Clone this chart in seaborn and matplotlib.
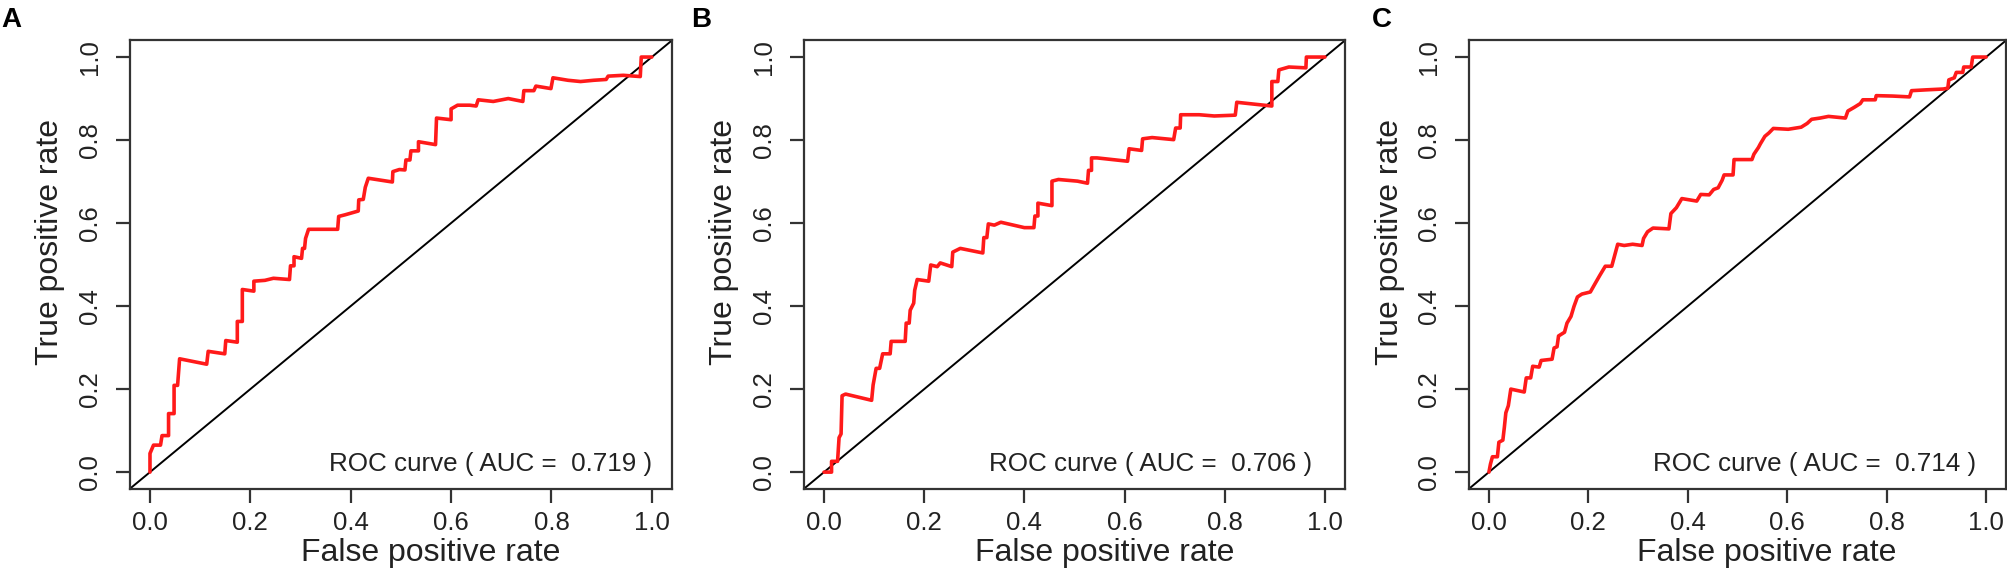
import matplotlib
matplotlib.use("Agg")
import matplotlib.pyplot as plt
import seaborn as sns
import pandas as pd

# ROC curves (false positive rate, true positive rate)
fpr_a = [0.0, 0.0, 0.007, 0.021, 0.024, 0.037, 0.037, 0.048, 0.048, 0.055, 0.059, 0.113, 0.116,
         0.149, 0.151, 0.174, 0.174, 0.184, 0.184, 0.207, 0.207, 0.229, 0.246, 0.278, 0.280,
         0.287, 0.287, 0.302, 0.304, 0.308, 0.310, 0.316, 0.344, 0.374, 0.376, 0.389, 0.415,
         0.416, 0.425, 0.429, 0.435, 0.483, 0.484, 0.497, 0.508, 0.510, 0.518, 0.520, 0.535,
         0.535, 0.569, 0.571, 0.600, 0.600, 0.613, 0.637, 0.650, 0.654, 0.684, 0.714, 0.743,
         0.745, 0.765, 0.769, 0.799, 0.803, 0.833, 0.858, 0.884, 0.909, 0.913, 0.943, 0.977,
         0.979, 1.0]
tpr_a = [0.0, 0.045, 0.065, 0.065, 0.088, 0.088, 0.141, 0.141, 0.209, 0.209, 0.273, 0.260, 0.291,
         0.285, 0.317, 0.313, 0.363, 0.363, 0.440, 0.436, 0.460, 0.462, 0.467, 0.464, 0.497,
         0.497, 0.519, 0.515, 0.539, 0.539, 0.563, 0.585, 0.585, 0.585, 0.616, 0.620, 0.629,
         0.656, 0.657, 0.686, 0.708, 0.699, 0.724, 0.729, 0.728, 0.752, 0.752, 0.774, 0.774,
         0.796, 0.789, 0.853, 0.849, 0.875, 0.884, 0.884, 0.882, 0.897, 0.893, 0.900, 0.893,
         0.919, 0.919, 0.930, 0.924, 0.950, 0.944, 0.941, 0.944, 0.946, 0.954, 0.956, 0.953,
         1.0, 1.0]

fpr_b = [0.0, 0.015, 0.015, 0.027, 0.030, 0.034, 0.036, 0.043, 0.095, 0.098, 0.104, 0.111, 0.117,
         0.132, 0.134, 0.162, 0.164, 0.170, 0.172, 0.179, 0.181, 0.186, 0.209, 0.213, 0.226,
         0.232, 0.255, 0.257, 0.272, 0.317, 0.319, 0.325, 0.328, 0.340, 0.353, 0.400, 0.419,
         0.421, 0.427, 0.427, 0.455, 0.455, 0.468, 0.506, 0.526, 0.528, 0.534, 0.534, 0.545,
         0.606, 0.609, 0.634, 0.636, 0.655, 0.698, 0.702, 0.711, 0.712, 0.749, 0.779, 0.821,
         0.824, 0.855, 0.894, 0.894, 0.906, 0.908, 0.928, 0.962, 0.963, 1.0]
tpr_b = [0.0, 0.0, 0.026, 0.026, 0.083, 0.092, 0.184, 0.188, 0.173, 0.210, 0.250, 0.250, 0.285,
         0.285, 0.315, 0.315, 0.359, 0.359, 0.390, 0.407, 0.438, 0.464, 0.460, 0.499, 0.495,
         0.504, 0.495, 0.530, 0.539, 0.528, 0.565, 0.565, 0.598, 0.595, 0.602, 0.589, 0.589,
         0.617, 0.617, 0.648, 0.642, 0.701, 0.705, 0.701, 0.696, 0.727, 0.727, 0.757, 0.757,
         0.749, 0.779, 0.775, 0.803, 0.806, 0.801, 0.829, 0.829, 0.861, 0.861, 0.858, 0.860,
         0.891, 0.887, 0.882, 0.941, 0.941, 0.969, 0.976, 0.974, 1.0, 1.0]

fpr_c = [0.0, 0.003, 0.007, 0.017, 0.020, 0.028, 0.031, 0.034, 0.039, 0.044, 0.071, 0.075, 0.084,
         0.088, 0.101, 0.105, 0.127, 0.131, 0.137, 0.140, 0.152, 0.157, 0.165, 0.171, 0.178,
         0.187, 0.204, 0.212, 0.223, 0.234, 0.247, 0.259, 0.272, 0.289, 0.308, 0.311, 0.319,
         0.330, 0.362, 0.366, 0.377, 0.388, 0.418, 0.426, 0.443, 0.452, 0.461, 0.469, 0.473,
         0.491, 0.493, 0.529, 0.533, 0.542, 0.546, 0.555, 0.563, 0.572, 0.602, 0.628, 0.640,
         0.649, 0.666, 0.683, 0.717, 0.722, 0.735, 0.747, 0.752, 0.777, 0.779, 0.812, 0.846,
         0.850, 0.880, 0.914, 0.923, 0.925, 0.936, 0.940, 0.953, 0.955, 0.970, 0.973, 1.0]
tpr_c = [0.0, 0.019, 0.037, 0.037, 0.072, 0.077, 0.108, 0.143, 0.160, 0.200, 0.193, 0.227, 0.227,
         0.255, 0.253, 0.269, 0.272, 0.299, 0.302, 0.328, 0.337, 0.359, 0.375, 0.399, 0.422,
         0.429, 0.434, 0.451, 0.474, 0.496, 0.496, 0.549, 0.546, 0.549, 0.546, 0.563, 0.579,
         0.588, 0.586, 0.623, 0.637, 0.659, 0.653, 0.669, 0.668, 0.681, 0.685, 0.703, 0.716,
         0.716, 0.753, 0.753, 0.766, 0.782, 0.791, 0.809, 0.817, 0.828, 0.826, 0.831, 0.840,
         0.850, 0.853, 0.857, 0.853, 0.870, 0.879, 0.888, 0.897, 0.897, 0.907, 0.906, 0.904,
         0.919, 0.921, 0.923, 0.925, 0.945, 0.950, 0.963, 0.963, 0.976, 0.976, 1.0, 1.0]

panel_letters = ["A", "B", "C"]
auc_values = ["0.719", "0.706", "0.714"]
ticks = [0.0, 0.2, 0.4, 0.6, 0.8, 1.0]
tick_labels = ["0.0", "0.2", "0.4", "0.6", "0.8", "1.0"]

sns.set_style("ticks")
plt.rcParams["font.family"] = ["Liberation Sans", "DejaVu Sans"]
ink = "#222222"

fig = plt.figure(figsize=(20.08, 5.72), dpi=100)

# axes boxes in figure fractions (left, width), shared bottom/height
boxes = [(0.0647, 0.2699), (0.4004, 0.2694), (0.7316, 0.2674)]
letter_x = [0.0005, 0.3440, 0.6830]
text_right = [1.0, 0.975, 0.98]
curves = [(fpr_a, tpr_a), (fpr_b, tpr_b), (fpr_c, tpr_c)]

for i, (fpr, tpr) in enumerate(curves):
    left, width = boxes[i]
    ax = fig.add_axes([left, 0.1456, width, 0.7837])
    df = pd.DataFrame({"fpr": fpr, "tpr": tpr})
    ax.axline((0, 0), slope=1, color="black", lw=1.4, zorder=1)
    sns.lineplot(data=df, x="fpr", y="tpr", sort=False, estimator=None,
                 color="#ff1a1a", lw=2.6, ax=ax, zorder=2)
    ax.set_xlim(-0.04, 1.04)
    ax.set_ylim(-0.04, 1.04)
    ax.set_xticks(ticks)
    ax.set_xticklabels(tick_labels)
    ax.set_yticks(ticks)
    ax.set_yticklabels(tick_labels, rotation=90, va="center")
    ax.tick_params(axis="both", length=10, width=1.6, color="#333333",
                   labelsize=18.5, labelcolor=ink)
    ax.tick_params(axis="x", pad=6)
    ax.tick_params(axis="y", pad=10)
    for s in ax.spines.values():
        s.set_visible(True)
        s.set_color("#333333")
        s.set_linewidth(1.6)
    ax.set_xlabel("False positive rate", fontsize=23, color=ink)
    ax.set_ylabel("True positive rate", fontsize=23, color=ink)
    ax.xaxis.set_label_coords(0.555, -0.11)
    ax.yaxis.set_label_coords(-0.12, 0.55)
    ax.text(text_right[i], 0.02, f"ROC curve ( AUC =  {auc_values[i]} )",
            ha="right", va="center", fontsize=18.7, color=ink)
    fig.text(letter_x[i], 0.988, panel_letters[i], fontsize=20, fontweight="bold",
             ha="left", va="top", color="black")

fig.savefig("out.png", dpi=100)
